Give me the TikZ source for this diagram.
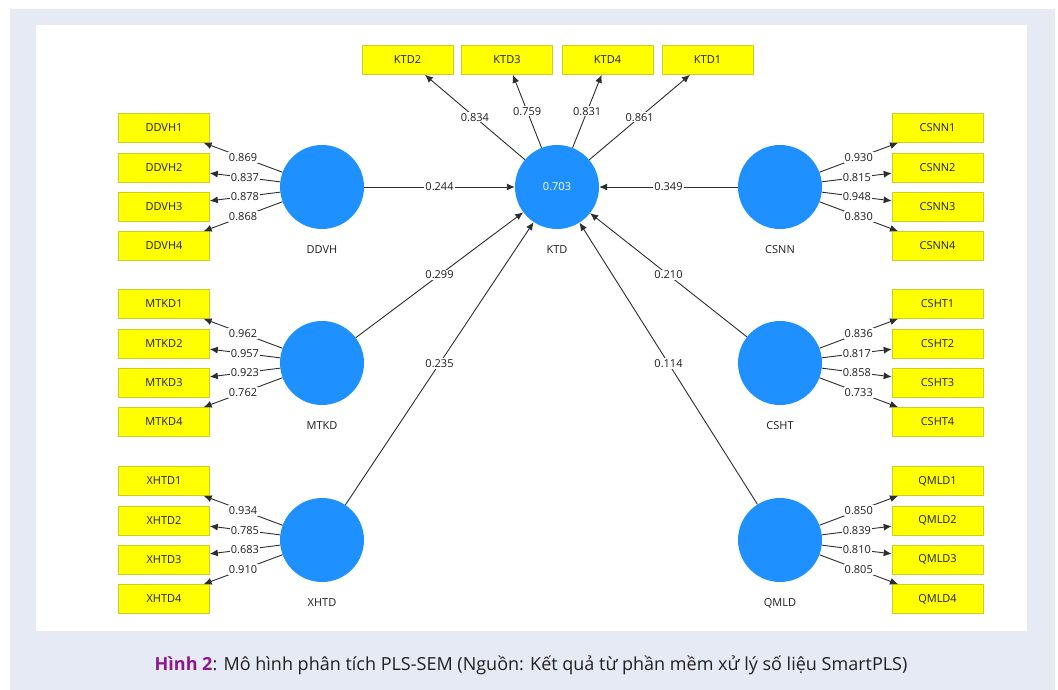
\documentclass[tikz,border=0pt]{standalone}
\usepackage{fontspec}
\setmainfont{Open Sans}
\usetikzlibrary{arrows.meta}
\definecolor{pagebg}{RGB}{230,234,245}
\definecolor{lvblue}{RGB}{30,144,255}
\definecolor{indyellow}{RGB}{255,255,0}
\definecolor{indborder}{RGB}{205,205,40}
\definecolor{linegray}{RGB}{45,45,45}
\definecolor{txtgray}{RGB}{30,30,30}
\definecolor{capurple}{RGB}{140,24,140}
\begin{document}
\begin{tikzpicture}[x=1pt,y=-1pt,
 ind/.style={rectangle, fill=indyellow, draw=indborder, line width=0.6pt, minimum width=91pt, minimum height=29pt, inner sep=0pt, font=\fontsize{11}{13}\selectfont, text=txtgray},
 lv/.style={circle, fill=lvblue, minimum size=84pt, inner sep=0pt, font=\fontsize{11}{13}\selectfont, text=white},
 lvname/.style={font=\fontsize{11}{13}\selectfont, text=txtgray},
 wt/.style={fill=white, inner sep=1pt, font=\fontsize{11}{13}\selectfont, text=txtgray},
 link/.style={draw=linegray, line width=0.9pt, -{Latex[length=8pt,width=7pt]}}]
% background
\fill[white] (0,0) rectangle (1058,690);
\fill[pagebg] (10,9) rectangle (1055,690);
\fill[white] (36,25) rectangle (1027,631);
% endogenous construct
\node[lv] (KTD) at (557,187) {0.703};
\node[lvname] (KTD-name) at (557,250) {KTD};
\node[ind] (KTD2) at (407.5,60) {KTD2};
\node[ind] (KTD3) at (507,60) {KTD3};
\node[ind] (KTD4) at (607.5,60) {KTD4};
\node[ind] (KTD1) at (707.5,60) {KTD1};
\draw[link] (KTD) -- node[wt]{0.834} (KTD2);
\draw[link] (KTD) -- node[wt]{0.759} (KTD3);
\draw[link] (KTD) -- node[wt]{0.831} (KTD4);
\draw[link] (KTD) -- node[wt]{0.861} (KTD1);
% left constructs
\foreach \n/\yy/\a/\b/\c/\d in {DDVH/187/0.869/0.837/0.878/0.868, MTKD/363/0.962/0.957/0.923/0.762, XHTD/540/0.934/0.785/0.683/0.910}{
 \node[lv] (\n) at (322,\yy) {};
 \node[lvname] (\n-name) at (322,\yy+63) {\n};
 \node[ind] (\n1) at (164,\yy-59) {\n1};
 \node[ind] (\n2) at (164,\yy-19.5) {\n2};
 \node[ind] (\n3) at (164,\yy+19.5) {\n3};
 \node[ind] (\n4) at (164,\yy+59) {\n4};
 \draw[link] (\n) -- node[wt]{\a} (\n1);
 \draw[link] (\n) -- node[wt]{\b} (\n2);
 \draw[link] (\n) -- node[wt]{\c} (\n3);
 \draw[link] (\n) -- node[wt]{\d} (\n4);
}
% right constructs
\foreach \n/\yy/\a/\b/\c/\d in {CSNN/187/0.930/0.815/0.948/0.830, CSHT/363/0.836/0.817/0.858/0.733, QMLD/540/0.850/0.839/0.810/0.805}{
 \node[lv] (\n) at (780,\yy) {};
 \node[lvname] (\n-name) at (780,\yy+63) {\n};
 \node[ind] (\n1) at (937.5,\yy-59) {\n1};
 \node[ind] (\n2) at (937.5,\yy-19.5) {\n2};
 \node[ind] (\n3) at (937.5,\yy+19.5) {\n3};
 \node[ind] (\n4) at (937.5,\yy+59) {\n4};
 \draw[link] (\n) -- node[wt]{\a} (\n1);
 \draw[link] (\n) -- node[wt]{\b} (\n2);
 \draw[link] (\n) -- node[wt]{\c} (\n3);
 \draw[link] (\n) -- node[wt]{\d} (\n4);
}
% structural paths
\draw[link] (DDVH) -- node[wt]{0.244} (KTD);
\draw[link] (MTKD) -- node[wt]{0.299} (KTD);
\draw[link] (XHTD) -- node[wt]{0.235} (KTD);
\draw[link] (CSNN) -- node[wt]{0.349} (KTD);
\draw[link] (CSHT) -- node[wt]{0.210} (KTD);
\draw[link] (QMLD) -- node[wt]{0.114} (KTD);
% caption
\node[font=\fontsize{18}{21}\selectfont, text={rgb,255:red,35;green,31;blue,32}] (cap) at (531,665) {\textcolor{capurple}{\textbf{Hình 2}}: Mô hình phân tích PLS-SEM (Nguồn: Kết quả từ phần mềm xử lý số liệu SmartPLS)};
\end{tikzpicture}
\end{document}
